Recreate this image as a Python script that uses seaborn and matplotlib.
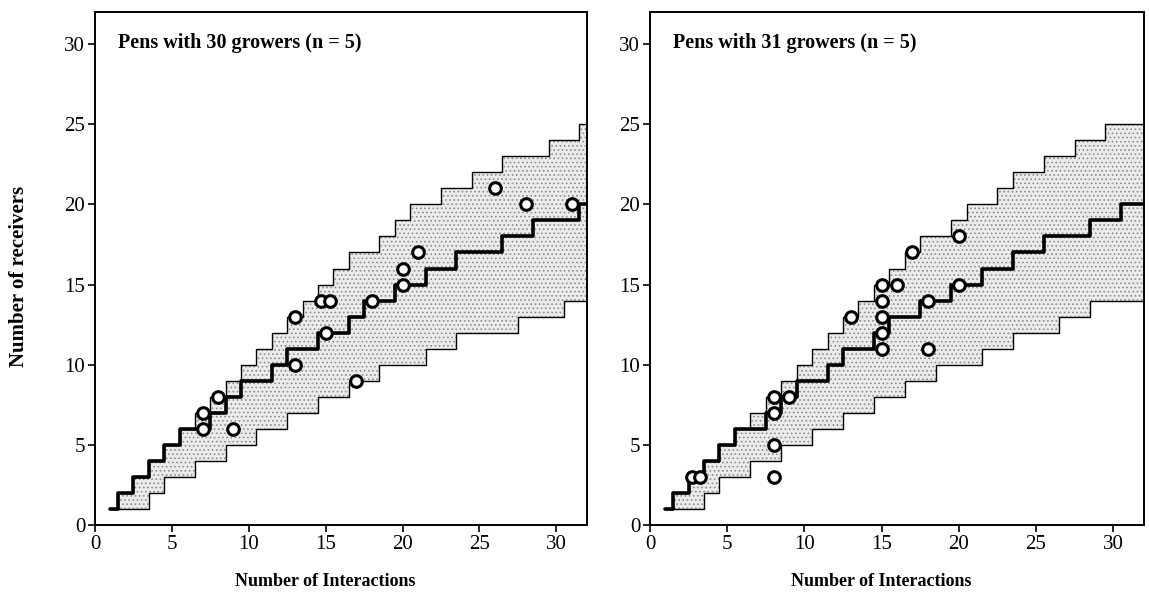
import numpy as np
import pandas as pd
import matplotlib
matplotlib.use("Agg")
import matplotlib.pyplot as plt
import seaborn as sns

# interaction counts the reference curves are drawn at
n_inter = list(range(1, 33))

# pens with 30 growers: median and band of a random-receiver model
med_30 = [1, 2, 3, 4, 5, 6, 6, 7, 8, 9, 9, 10, 11, 11, 12, 12,
          13, 14, 14, 15, 15, 16, 16, 17, 17, 17, 18, 18, 19, 19, 19, 20]
up_30 = [1, 2, 3, 4, 5, 6, 7, 8, 9, 10, 11, 12, 13, 14, 15, 16,
         17, 17, 18, 19, 20, 20, 21, 21, 22, 22, 23, 23, 23, 24, 24, 25]
lo_30 = [1, 1, 1, 2, 3, 3, 4, 4, 5, 5, 6, 6, 7, 7, 8, 8,
         9, 9, 10, 10, 10, 11, 11, 12, 12, 12, 12, 13, 13, 13, 14, 14]

# pens with 31 growers
med_31 = [1, 2, 3, 4, 5, 6, 6, 7, 8, 9, 9, 10, 11, 11, 12, 13,
          13, 14, 14, 15, 15, 16, 16, 17, 17, 18, 18, 18, 19, 19, 20, 20]
up_31 = [1, 2, 3, 4, 5, 6, 7, 8, 9, 10, 11, 12, 13, 14, 15, 16,
         17, 18, 18, 19, 20, 20, 21, 22, 22, 23, 23, 24, 24, 25, 25, 25]
lo_31 = [1, 1, 1, 2, 3, 3, 4, 4, 5, 5, 6, 6, 7, 7, 8, 8,
         9, 9, 10, 10, 10, 11, 11, 12, 12, 12, 13, 13, 14, 14, 14, 14]

# observed pens
obs_x_30 = [7, 7, 8, 9, 13, 13, 14.7, 15.3, 15, 17, 18, 20, 20, 21, 26, 28, 31]
obs_y_30 = [6, 7, 8, 6, 10, 13, 14, 14, 12, 9, 14, 15, 16, 17, 21, 20, 20]
obs_x_31 = [2.75, 3.25, 8, 8, 8, 8, 9, 13, 15, 15, 15, 15, 15, 16, 17, 18, 18, 20, 20]
obs_y_31 = [3, 3, 3, 5, 7, 8, 8, 13, 11, 12, 13, 14, 15, 15, 17, 11, 14, 15, 18]

titles = ["Pens with 30 growers (n = 5)", "Pens with 31 growers (n = 5)"]

sns.set_theme(style="ticks")
plt.rcParams["font.family"] = ["Liberation Serif", "DejaVu Serif"]
plt.rcParams["text.color"] = "black"
plt.rcParams["hatch.linewidth"] = 0.7

fig = plt.figure(figsize=(11.49, 5.95), dpi=100)
ax1 = fig.add_axes([0.0827, 0.1176, 0.4282, 0.8622])
ax2 = fig.add_axes([0.5657, 0.1176, 0.4300, 0.8622])

panels = [
    (ax1, med_30, up_30, lo_30, obs_x_30, obs_y_30, titles[0]),
    (ax2, med_31, up_31, lo_31, obs_x_31, obs_y_31, titles[1]),
]

for ax, med, up, lo, ox, oy, title in panels:
    df = pd.DataFrame({"n": n_inter, "med": med, "up": up, "lo": lo})
    ax.fill_between(df["n"], df["lo"], df["up"], step="mid",
                    facecolor="#ebebeb", edgecolor="#8c8c8c", hatch="....", lw=0)
    sns.lineplot(data=df, x="n", y="up", ax=ax, color="black", lw=1.0,
                 drawstyle="steps-mid")
    sns.lineplot(data=df, x="n", y="lo", ax=ax, color="black", lw=1.0,
                 drawstyle="steps-mid")
    sns.lineplot(data=df, x="n", y="med", ax=ax, color="black", lw=2.6,
                 drawstyle="steps-mid")
    sns.scatterplot(x=ox, y=oy, ax=ax, s=70, facecolor="white",
                    edgecolor="black", linewidth=2.2, zorder=5)

    ax.set_xlim(0, 32)
    ax.set_ylim(0, 32)
    ax.set_xticks(range(0, 31, 5))
    ax.set_yticks(range(0, 31, 5))
    ax.tick_params(labelsize=15, length=5, width=1.2, color="black",
                   labelcolor="black", pad=2)
    for sp in ax.spines.values():
        sp.set_visible(True)
        sp.set_color("black")
        sp.set_linewidth(1.4)
    ax.text(0.047, 0.94, title, transform=ax.transAxes, fontsize=14.5,
            fontweight="bold", va="center", ha="left", color="black")
    ax.set_xlabel("Number of Interactions", fontsize=13, fontweight="bold",
                  color="black")
    ax.xaxis.set_label_coords(15 / 32, -0.093)
    ax.set_ylabel("")

ax1.set_ylabel("Number of receivers", fontsize=15, fontweight="bold", color="black")
ax1.yaxis.set_label_coords(-0.134, 15.5 / 32)

fig.savefig("out.png", dpi=100)
